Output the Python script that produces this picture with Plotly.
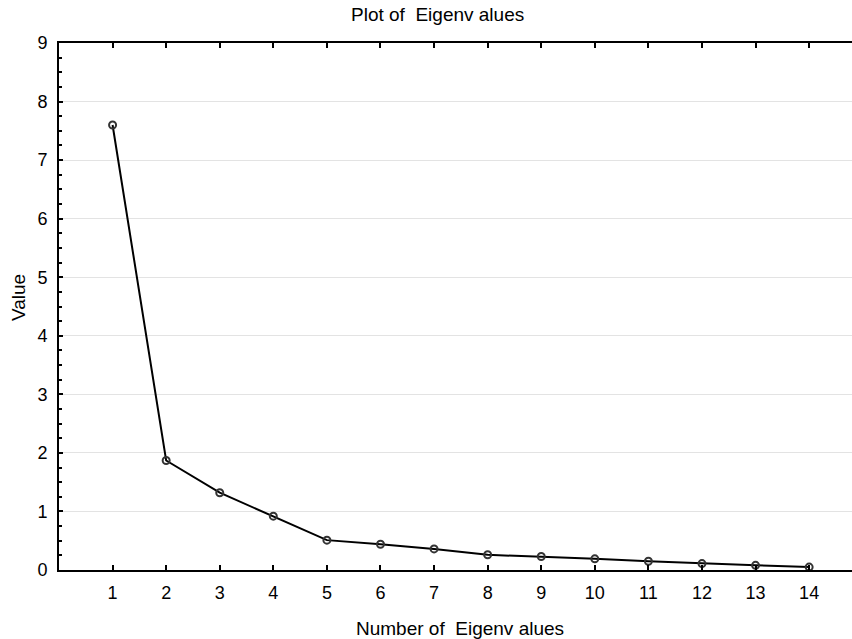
import plotly.graph_objects as go

components = list(range(1, 15))
eigenvalues = [7.60, 1.87, 1.32, 0.92, 0.51, 0.44, 0.36, 0.26, 0.23, 0.19, 0.15, 0.11, 0.08, 0.05]
x_ticks = list(range(1, 15))
y_ticks = list(range(0, 10))

W, H = 852, 639
ml, mr, mt, mb = 59, 0, 43, 69

fig = go.Figure()
fig.add_trace(go.Scatter(
    x=components, y=eigenvalues, mode="lines+markers",
    line=dict(color="black", width=2),
    marker=dict(symbol="circle-open", size=7, color="#333333", line=dict(width=2, color="#333333")),
    showlegend=False, cliponaxis=False,
))

font = "Liberation Sans, Arial, sans-serif"
title_size = 19
tick_size = 18
fig.update_layout(
    width=W, height=H,
    margin=dict(l=ml, r=mr, t=mt, b=mb),
    paper_bgcolor="white", plot_bgcolor="white",
    font=dict(family=font, color="black", size=tick_size),
    annotations=[
        dict(text="Plot of  Eigenv alues", x=(437 - ml) / (W - ml - mr), y=1, xref="paper", yref="paper",
             xanchor="center", yanchor="middle", yshift=43 - 14, showarrow=False,
             font=dict(family=font, size=title_size, color="black")),
        dict(text="Number of  Eigenv alues", x=(460 - ml) / (W - ml - mr), y=0, xref="paper", yref="paper",
             xanchor="center", yanchor="middle", yshift=-(628 - 570), showarrow=False,
             font=dict(family=font, size=title_size, color="black")),
        dict(text="Value", x=0, y=(570 - 298) / (570 - 43), xref="paper", yref="paper",
             xanchor="center", yanchor="middle", xshift=18 - ml, textangle=-90, showarrow=False,
             font=dict(family=font, size=title_size, color="black")),
    ],
)
fig.update_xaxes(
    range=[0, 14.8], tickvals=x_ticks, ticktext=[str(v) for v in x_ticks],
    showgrid=False, zeroline=False,
    showline=True, linecolor="black", linewidth=2, mirror="ticks",
    ticks="inside", ticklen=5, tickwidth=2, tickcolor="black",
    ticklabelstandoff=5,
    tickfont=dict(family=font, size=tick_size, color="black"),
)
fig.update_yaxes(
    range=[0, 9], tickvals=y_ticks, ticktext=[str(v) for v in y_ticks],
    showgrid=True, gridcolor="#e3e3e3", gridwidth=1, zeroline=False,
    showline=True, linecolor="black", linewidth=2,
    ticks="inside", ticklen=4, tickwidth=2, tickcolor="black",
    ticklabelstandoff=6,
    tickfont=dict(family=font, size=tick_size, color="black"),
    minor=dict(dtick=0.25, ticks="inside", ticklen=3, tickwidth=2, tickcolor="black", showgrid=False),
)

fig.write_html("out.html")
